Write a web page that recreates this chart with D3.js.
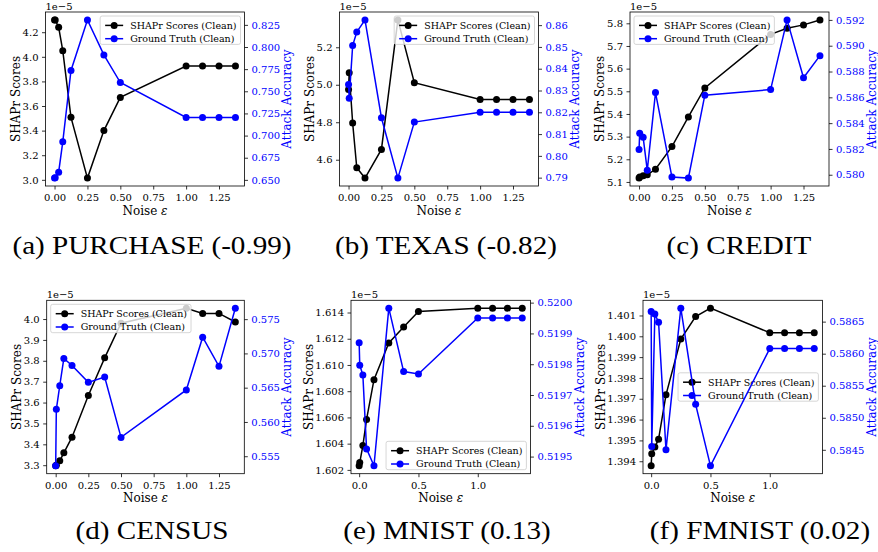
<!DOCTYPE html>
<html>
<head>
<meta charset="utf-8">
<script src="https://cdn.jsdelivr.net/npm/d3@7"></script>
<style>
body { margin: 0; background: #fff; }
svg { display: block; }
text { font-family: "DejaVu Serif", serif; }
</style>
</head>
<body>
<svg width="878" height="552"></svg>
<script>
'use strict';

// noise levels on the x axis, shared by every panel
var noise = [0, 0.005, 0.03125, 0.0625, 0.125, 0.25, 0.375, 0.5, 1.0, 1.125, 1.25, 1.375];

// SHAPr scores in units of 1e-5, ground truth = attack accuracy
var purchaseShapr = [4.30, 4.30, 4.24, 4.05, 3.508, 3.014, 3.40, 3.67, 3.925, 3.925, 3.925, 3.925];
var purchaseTruth = [0.652, 0.6525, 0.6587, 0.6929, 0.7736, 0.8306, 0.7911, 0.7599, 0.7204, 0.7204, 0.7204, 0.7204];

var texasShapr = [4.975, 5.064, 4.796, 4.557, 4.502, 4.655, 5.346, 5.011, 4.921, 4.921, 4.921, 4.921];
var texasTruth = [0.8328, 0.8265, 0.8506, 0.8568, 0.8624, 0.8175, 0.7898, 0.8155, 0.8200, 0.8200, 0.8200, 0.8200];

var creditShapr = [5.117, 5.122, 5.127, 5.132, 5.156, 5.256, 5.387, 5.515, 5.751, 5.778, 5.793, 5.815];
var creditTruth = [0.58195, 0.58322, 0.5829, 0.58034, 0.58637, 0.57982, 0.57974, 0.58617, 0.5866, 0.5920, 0.58752, 0.58923];

var censusShapr = [3.297, 3.300, 3.321, 3.359, 3.434, 3.634, 3.814, 3.98, 4.052, 4.027, 4.027, 3.986];
var censusTruth = [0.5536, 0.56184, 0.56529, 0.56926, 0.56824, 0.56578, 0.56655, 0.55775, 0.56467, 0.57237, 0.56811, 0.5766];

var mnistShapr = [1.60231, 1.60256, 1.60385, 1.60585, 1.60888, 1.61168, 1.61289, 1.61408, 1.61433, 1.61433, 1.61433, 1.61433];
var mnistTruth = [0.51987, 0.519797, 0.519765, 0.519525, 0.51947, 0.519982, 0.519776, 0.519768, 0.51995, 0.51995, 0.51995, 0.51995];

var fmnistShapr = [1.39378, 1.39436, 1.39468, 1.39506, 1.39719, 1.39987, 1.40095, 1.40135, 1.40017, 1.40017, 1.40017, 1.40017];
var fmnistTruth = [0.58666, 0.58455, 0.58662, 0.58649, 0.58450, 0.58671, 0.58521, 0.58425, 0.58608, 0.58608, 0.58608, 0.58608];

// tick values
var xTicksWide = [0, 0.25, 0.5, 0.75, 1.0, 1.25];
var xTicksNarrow = [0, 0.5, 1.0];
var purchaseShaprTicks = [3.0, 3.2, 3.4, 3.6, 3.8, 4.0, 4.2];
var purchaseTruthTicks = [0.650, 0.675, 0.700, 0.725, 0.750, 0.775, 0.800, 0.825];
var texasShaprTicks = [4.6, 4.8, 5.0, 5.2];
var texasTruthTicks = [0.79, 0.80, 0.81, 0.82, 0.83, 0.84, 0.85, 0.86];
var creditShaprTicks = [5.1, 5.2, 5.3, 5.4, 5.5, 5.6, 5.7, 5.8];
var creditTruthTicks = [0.580, 0.582, 0.584, 0.586, 0.588, 0.590, 0.592];
var censusShaprTicks = [3.3, 3.4, 3.5, 3.6, 3.7, 3.8, 3.9, 4.0];
var censusTruthTicks = [0.555, 0.560, 0.565, 0.570, 0.575];
var mnistShaprTicks = [1.602, 1.604, 1.606, 1.608, 1.610, 1.612, 1.614];
var mnistTruthTicks = [0.5195, 0.5196, 0.5197, 0.5198, 0.5199, 0.5200];
var fmnistShaprTicks = [1.394, 1.395, 1.396, 1.397, 1.398, 1.399, 1.400, 1.401];
var fmnistTruthTicks = [0.5845, 0.5850, 0.5855, 0.5860, 0.5865];

var captions = ["(a) PURCHASE (-0.99)", "(b) TEXAS (-0.82)", "(c) CREDIT",
                "(d) CENSUS", "(e) MNIST (0.13)", "(f) FMNIST (0.02)"];
var seriesNames = ["SHAPr Scores (Clean)", "Ground Truth (Clean)"];

var panels = [
	{box: [45.5, 12, 199, 174], shapr: purchaseShapr, truth: purchaseTruth, lt: purchaseShaprTicks, rt: purchaseTruthTicks, lf: ".1f", rf: ".3f", xt: xTicksWide, xf: ".2f", legend: "upper right", cap: [152, 254]},
	{box: [339.5, 12, 199, 174], shapr: texasShapr, truth: texasTruth, lt: texasShaprTicks, rt: texasTruthTicks, lf: ".1f", rf: ".2f", xt: xTicksWide, xf: ".2f", legend: "upper right", cap: [446, 254]},
	{box: [630, 12, 199, 174], shapr: creditShapr, truth: creditTruth, lt: creditShaprTicks, rt: creditTruthTicks, lf: ".1f", rf: ".3f", xt: xTicksWide, xf: ".2f", legend: "upper left", cap: [739, 254]},
	{box: [46.7, 300.3, 197.6, 173.4], shapr: censusShapr, truth: censusTruth, lt: censusShaprTicks, rt: censusTruthTicks, lf: ".1f", rf: ".3f", xt: xTicksWide, xf: ".2f", legend: "upper left", cap: [152, 539]},
	{box: [351, 300.3, 179.4, 173.4], shapr: mnistShapr, truth: mnistTruth, lt: mnistShaprTicks, rt: mnistTruthTicks, lf: ".3f", rf: ".4f", xt: xTicksNarrow, xf: ".1f", legend: "lower right", cap: [447, 539]},
	{box: [643, 300.3, 179.4, 173.4], shapr: fmnistShapr, truth: fmnistTruth, lt: fmnistShaprTicks, rt: fmnistTruthTicks, lf: ".3f", rf: ".4f", xt: xTicksNarrow, xf: ".1f", legend: "center right", cap: [760, 539]}
];

var svg = d3.select("svg");

// matplotlib style 5% margins
function padded(ext) {
	var p = (ext[1] - ext[0]) * 0.05;
	return [ext[0] - p, ext[1] + p];
}

function styleAxis(sel) {
	sel.attr("font-family", null).attr("font-size", 10);
	sel.select(".domain").remove();
	sel.selectAll(".tick line").attr("stroke-width", 0.8);
}

function drawSeries(g, values, x, y, color) {
	var pts = noise.map(function(n, i) { return [n, values[i]]; });
	var line = d3.line()
		.x(function(d) { return x(d[0]); })
		.y(function(d) { return y(d[1]); });
	g.append("path")
		.datum(pts)
		.attr("d", line)
		.attr("fill", "none")
		.attr("stroke", color)
		.attr("stroke-width", 1.5);
	g.selectAll(null)
		.data(pts)
		.enter().append("circle")
		.attr("cx", function(d) { return x(d[0]); })
		.attr("cy", function(d) { return y(d[1]); })
		.attr("r", 3.5)
		.attr("fill", color);
}

function drawLegend(g, loc, w, h) {
	var lg = g.append("g");
	var bg = lg.append("rect");
	var colors = ["black", "blue"];
	var maxW = 0;
	seriesNames.forEach(function(name, i) {
		var cy = 9.4 + i * 13.3;
		lg.append("line")
			.attr("x1", 5).attr("x2", 23)
			.attr("y1", cy).attr("y2", cy)
			.attr("stroke", colors[i]).attr("stroke-width", 1.5);
		lg.append("circle")
			.attr("cx", 14).attr("cy", cy).attr("r", 3.5)
			.attr("fill", colors[i]);
		var t = lg.append("text")
			.attr("x", 30).attr("y", cy).attr("dy", "0.35em")
			.attr("font-size", 9.5)
			.text(name);
		maxW = Math.max(maxW, t.node().getComputedTextLength());
	});
	var lw = 30 + maxW + 4, lh = 28.4, pad = 4;
	bg.attr("width", lw).attr("height", lh)
		.attr("rx", 2)
		.attr("fill", "white").attr("fill-opacity", 0.8)
		.attr("stroke", "#cccccc").attr("stroke-width", 0.8);
	var lx = loc.indexOf("right") >= 0 ? w - pad - lw : pad;
	var ly = loc.indexOf("upper") === 0 ? pad : (loc.indexOf("lower") === 0 ? h - pad - lh : (h - lh) / 2);
	lg.attr("transform", "translate(" + lx + "," + ly + ")");
}

var xDomain = padded(d3.extent(noise));

panels.forEach(function(p, i) {
	var w = p.box[2], h = p.box[3];
	var g = svg.append("g").attr("transform", "translate(" + p.box[0] + "," + p.box[1] + ")");

	var x = d3.scaleLinear().domain(xDomain).range([0, w]);
	var yL = d3.scaleLinear().domain(padded(d3.extent(p.shapr))).range([h, 0]);
	var yR = d3.scaleLinear().domain(padded(d3.extent(p.truth))).range([h, 0]);

	g.append("g")
		.attr("transform", "translate(0," + h + ")")
		.call(d3.axisBottom(x).tickValues(p.xt).tickFormat(d3.format(p.xf)).tickSize(3.5).tickPadding(4.5))
		.call(styleAxis);

	var gl = g.append("g")
		.call(d3.axisLeft(yL).tickValues(p.lt).tickFormat(d3.format(p.lf)).tickSize(3.5).tickPadding(3.5))
		.call(styleAxis);

	var gr = g.append("g")
		.attr("transform", "translate(" + w + ",0)")
		.call(d3.axisRight(yR).tickValues(p.rt).tickFormat(d3.format(p.rf)).tickSize(3.5).tickPadding(3.5))
		.call(styleAxis);
	gr.selectAll(".tick text").attr("fill", "blue");

	// axis labels
	var lb = gl.node().getBBox();
	g.append("text")
		.attr("transform", "translate(" + (lb.x - 7) + "," + (h / 2) + ") rotate(-90)")
		.attr("text-anchor", "middle")
		.attr("dy", "0.35em")
		.attr("font-size", 12)
		.text("SHAPr Scores");
	var rb = gr.node().getBBox();
	g.append("text")
		.attr("transform", "translate(" + (w + rb.x + rb.width + 7) + "," + (h / 2) + ") rotate(-90)")
		.attr("text-anchor", "middle")
		.attr("dy", "0.35em")
		.attr("font-size", 12)
		.attr("fill", "blue")
		.text("Attack Accuracy");

	var xl = g.append("text")
		.attr("x", w / 2).attr("y", h + 28.5)
		.attr("text-anchor", "middle")
		.attr("font-size", 12);
	xl.append("tspan").text("Noise ");
	xl.append("tspan").attr("font-style", "italic").text("ε");

	g.append("text")
		.attr("x", 0).attr("y", -2)
		.attr("font-size", 10)
		.text("1e\u22125");

	drawSeries(g, p.shapr, x, yL, "black");
	drawLegend(g, p.legend, w, h);
	drawSeries(g, p.truth, x, yR, "blue");

	g.append("rect")
		.attr("width", w).attr("height", h)
		.attr("fill", "none")
		.attr("stroke", "black")
		.attr("stroke-width", 0.8);

	var cap = svg.append("text")
		.attr("x", p.cap[0]).attr("y", p.cap[1])
		.attr("text-anchor", "middle")
		.style("font-family", "'Liberation Serif', serif")
		.attr("font-size", 26)
		.text(captions[i]);
	var natural = cap.node().getComputedTextLength();
	cap.attr("textLength", natural * 1.12).attr("lengthAdjust", "spacingAndGlyphs");
});
</script>
</body>
</html>
